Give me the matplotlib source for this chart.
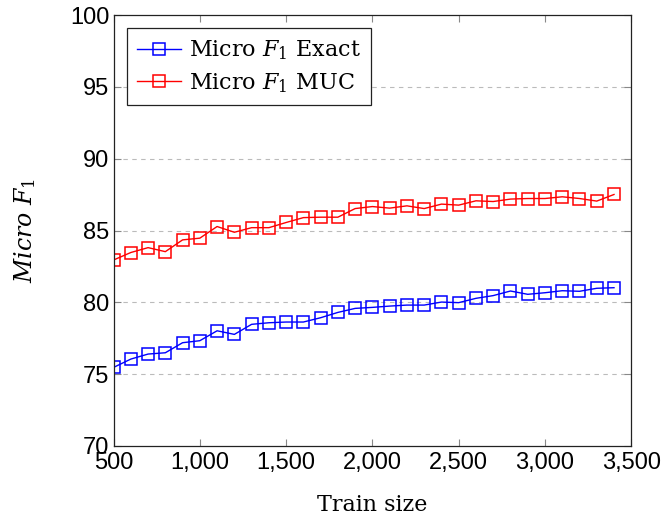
import matplotlib
matplotlib.use("Agg")
import matplotlib.pyplot as plt

plt.rcParams['mathtext.fontset'] = 'dejavuserif'

train_size = [500, 600, 700, 800, 900, 1000, 1100, 1200, 1300, 1400,
              1500, 1600, 1700, 1800, 1900, 2000, 2100, 2200, 2300, 2400,
              2500, 2600, 2700, 2800, 2900, 3000, 3100, 3200, 3300, 3400]

f1_exact = [75.47, 76.05, 76.40, 76.49, 77.19, 77.33, 78.02, 77.77, 78.47, 78.58,
            78.63, 78.63, 78.93, 79.30, 79.58, 79.65, 79.74, 79.81, 79.81, 80.02,
            79.98, 80.28, 80.47, 80.79, 80.56, 80.67, 80.81, 80.77, 80.98, 81.02]

f1_muc = [82.95, 83.47, 83.81, 83.53, 84.35, 84.47, 85.28, 84.88, 85.20, 85.20,
          85.56, 85.90, 85.93, 85.93, 86.53, 86.67, 86.56, 86.72, 86.53, 86.84,
          86.77, 87.07, 87.02, 87.19, 87.23, 87.23, 87.35, 87.23, 87.05, 87.51]

xticks = [500, 1000, 1500, 2000, 2500, 3000, 3500]
yticks = [70, 75, 80, 85, 90, 95, 100]

serif = 'DejaVu Serif'
sans = 'Liberation Sans'

fig = plt.figure(figsize=(6.68, 5.21), dpi=100)
ax = fig.add_axes([0.170, 0.144, 0.775, 0.827])

ax.plot(train_size, f1_exact, color='blue', marker='s', markersize=9,
        markerfacecolor='none', markeredgewidth=1.1, linewidth=1,
        label='Micro $F_1$ Exact')
ax.plot(train_size, f1_muc, color='red', marker='s', markersize=9,
        markerfacecolor='none', markeredgewidth=1.1, linewidth=1,
        label='Micro $F_1$ MUC')

ax.set_xlim(500, 3500)
ax.set_ylim(70, 100)
ax.set_xticks(xticks)
ax.set_xticklabels(['{:,}'.format(v) for v in xticks], fontfamily=sans, fontsize=17)
ax.set_yticks(yticks)
ax.set_yticklabels([str(v) for v in yticks], fontfamily=sans, fontsize=17)
ax.tick_params(direction='in', top=True, right=True, length=5, width=0.8,
               color='#888888')
ax.tick_params(axis='x', pad=4)
ax.tick_params(axis='y', pad=3)

for y in yticks[1:-1]:
    ax.axhline(y, color='#bbbbbb', linestyle=(0, (4, 4)), linewidth=0.8, zorder=0)

for s in ax.spines.values():
    s.set_linewidth(0.9)
    s.set_color('#222222')

ax.set_xlabel('Train size', fontfamily=serif, fontsize=16, labelpad=15)
ax.set_ylabel('$\\mathit{Micro}\\ F_1$', fontsize=17)
ax.yaxis.set_label_coords(-0.145, 0.5)

leg = ax.legend(loc='upper left', prop={'family': serif, 'size': 16},
                fancybox=False, edgecolor='#222222', framealpha=1,
                borderaxespad=0.6, handlelength=2.0, borderpad=0.45,
                labelspacing=0.4, handletextpad=0.35)
leg.get_frame().set_linewidth(0.9)

plt.savefig('out.png', dpi=100)
